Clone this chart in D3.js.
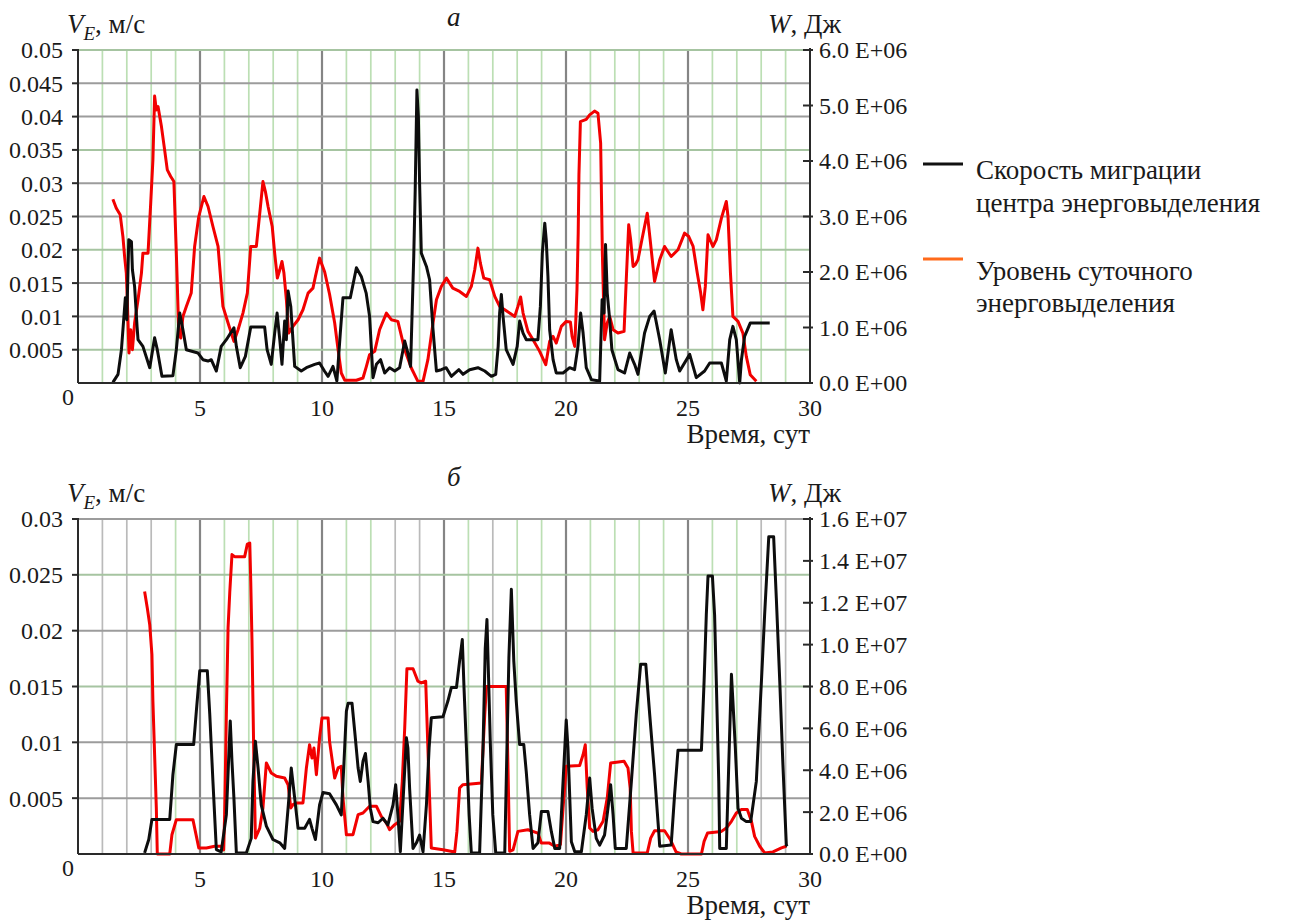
<!DOCTYPE html>
<html>
<head>
<meta charset="utf-8">
<script src="https://cdn.jsdelivr.net/npm/d3@7"></script>
<style>
  body { margin: 0; background: #fff; }
  svg { display: block; }
  text { font-family: "Liberation Serif", "Times New Roman", serif; fill: #1a1a1a; }
</style>
</head>
<body>
<svg id="chart" width="1296" height="924"></svg>
<script>
// ---- Panel (а): migration speed V_E, m/s and daily energy W, 1e6 J, versus time, days
const blackA = [[1.43,0.0001],[1.64,0.0013],[1.78,0.005],[1.94,0.0128],[2.0,0.0095],[2.08,0.0215],[2.19,0.0212],[2.23,0.017],[2.32,0.0145],[2.42,0.0085],[2.46,0.0065],[2.66,0.0055],[2.94,0.0023],[3.14,0.0068],[3.25,0.005],[3.44,0.001],[3.89,0.0011],[4.03,0.005],[4.17,0.0105],[4.30,0.008],[4.44,0.005],[4.92,0.0045],[5.12,0.0035],[5.33,0.0033],[5.46,0.0035],[5.67,0.0018],[5.87,0.0055],[6.08,0.0065],[6.39,0.0083],[6.49,0.0055],[6.65,0.0023],[6.86,0.004],[7.08,0.0084],[7.65,0.0084],[7.75,0.005],[7.92,0.0028],[8.06,0.0075],[8.16,0.0105],[8.27,0.0065],[8.36,0.0028],[8.47,0.0093],[8.54,0.0065],[8.61,0.0138],[8.72,0.0115],[8.88,0.0025],[9.15,0.0018],[9.36,0.0023],[9.70,0.0028],[9.90,0.003],[10.1,0.0018],[10.25,0.001],[10.45,0.0025],[10.61,0.0003],[10.75,0.0075],[10.86,0.0128],[11.16,0.0128],[11.41,0.0173],[11.61,0.016],[11.81,0.0135],[11.95,0.01],[12.09,0.0008],[12.23,0.0028],[12.40,0.0035],[12.57,0.0015],[12.77,0.0023],[12.98,0.0018],[13.18,0.0023],[13.39,0.0063],[13.52,0.0045],[13.63,0.0025],[13.76,0.019],[13.82,0.029],[13.89,0.044],[13.95,0.040],[14.0,0.03],[14.07,0.0195],[14.28,0.0175],[14.41,0.0155],[14.55,0.008],[14.69,0.0018],[14.89,0.002],[15.09,0.0023],[15.30,0.001],[15.61,0.002],[15.78,0.0013],[16.05,0.002],[16.39,0.0023],[16.67,0.0018],[16.94,0.001],[17.12,0.0013],[17.22,0.0055],[17.28,0.0105],[17.35,0.0133],[17.42,0.01],[17.55,0.005],[17.83,0.0028],[18.0,0.0055],[18.1,0.0093],[18.24,0.0075],[18.37,0.0065],[18.85,0.0065],[18.95,0.0115],[19.03,0.0195],[19.13,0.024],[19.19,0.0215],[19.26,0.016],[19.33,0.008],[19.47,0.0035],[19.60,0.0015],[19.88,0.0015],[20.15,0.0023],[20.35,0.002],[20.49,0.0055],[20.6,0.0105],[20.7,0.0075],[20.83,0.0023],[21.04,0.0005],[21.38,0.0003],[21.48,0.0125],[21.56,0.0105],[21.62,0.0208],[21.69,0.0135],[21.79,0.0095],[21.88,0.005],[22.13,0.002],[22.40,0.0015],[22.61,0.0045],[22.81,0.0028],[22.95,0.0013],[23.22,0.0075],[23.43,0.01],[23.61,0.0108],[23.84,0.0065],[24.07,0.0015],[24.31,0.008],[24.52,0.0035],[24.66,0.0018],[25.07,0.0043],[25.34,0.0008],[25.68,0.0018],[25.89,0.003],[26.37,0.003],[26.57,0.0003],[26.71,0.0065],[26.84,0.0085],[26.98,0.0065],[27.12,0],[27.19,0.0035],[27.32,0.007],[27.55,0.009],[28.35,0.009]];

const redA = [[1.43,3.31],[1.57,3.15],[1.73,3.03],[1.84,2.64],[1.91,2.28],[1.98,1.98],[2.02,1.5],[2.09,0.54],[2.16,0.96],[2.23,0.6],[2.32,1.08],[2.46,1.5],[2.6,1.98],[2.66,2.34],[2.87,2.34],[2.98,3.24],[3.07,4.02],[3.14,5.17],[3.21,4.92],[3.28,4.98],[3.42,4.62],[3.55,4.2],[3.66,3.84],[3.80,3.72],[3.93,3.63],[4.03,2.34],[4.13,0.9],[4.21,0.81],[4.30,1.2],[4.44,1.38],[4.64,1.62],[4.78,2.46],[4.95,3.0],[5.16,3.36],[5.33,3.18],[5.53,2.82],[5.74,2.46],[5.94,1.38],[6.15,1.08],[6.39,0.75],[6.56,0.96],[6.76,1.26],[6.94,1.62],[7.08,2.46],[7.31,2.46],[7.45,3.06],[7.58,3.63],[7.68,3.45],[7.79,3.18],[7.96,2.82],[8.06,2.34],[8.17,1.89],[8.27,2.04],[8.36,2.19],[8.44,1.98],[8.54,1.5],[8.63,0.9],[8.81,1.02],[9.02,1.14],[9.22,1.32],[9.43,1.62],[9.63,1.71],[9.73,1.92],[9.90,2.25],[10.11,2.0],[10.31,1.6],[10.52,1.08],[10.66,0.6],[10.79,0.18],[10.93,0.05],[11.41,0.05],[11.68,0.09],[11.82,0.3],[11.95,0.51],[12.16,0.57],[12.36,0.96],[12.64,1.26],[12.84,1.14],[13.11,1.11],[13.39,0.6],[13.66,0.27],[13.93,0.03],[14.14,0.03],[14.34,0.42],[14.55,1.08],[14.69,1.5],[14.89,1.74],[15.10,1.89],[15.36,1.71],[15.64,1.65],[15.92,1.56],[16.12,1.74],[16.26,2.04],[16.39,2.43],[16.49,2.16],[16.63,1.89],[16.87,1.86],[17.08,1.56],[17.28,1.38],[17.49,1.32],[17.69,1.26],[17.90,1.2],[18.03,1.38],[18.14,1.55],[18.24,1.26],[18.44,0.93],[18.65,0.78],[18.92,0.57],[19.17,0.33],[19.33,0.75],[19.47,0.84],[19.60,0.72],[19.81,1.02],[20.01,1.11],[20.18,1.1],[20.25,0.84],[20.36,0.66],[20.45,1.68],[20.5,2.7],[20.53,3.75],[20.59,4.71],[20.83,4.75],[20.97,4.83],[21.17,4.9],[21.31,4.86],[21.42,4.32],[21.49,2.34],[21.58,0.78],[21.69,1.08],[21.79,1.2],[21.93,0.96],[22.13,0.9],[22.38,0.93],[22.47,1.86],[22.57,2.85],[22.65,2.58],[22.75,2.1],[22.84,2.13],[22.95,2.22],[23.11,2.58],[23.33,3.06],[23.45,2.58],[23.63,1.83],[23.84,2.22],[24.04,2.46],[24.31,2.28],[24.59,2.4],[24.86,2.7],[25.03,2.64],[25.21,2.46],[25.38,1.98],[25.52,1.62],[25.61,1.32],[25.71,1.74],[25.82,2.67],[26.02,2.46],[26.16,2.58],[26.37,2.97],[26.57,3.27],[26.64,3.0],[26.74,1.98],[26.84,1.2],[27.05,1.11],[27.25,0.9],[27.39,0.48],[27.55,0.15],[27.80,0.03]];

// ---- Panel (б)
const blackB = [[2.73,0.0001],[2.90,0.0013],[3.03,0.0031],[3.76,0.0031],[3.89,0.0071],[4.03,0.0098],[4.74,0.0098],[4.85,0.0128],[4.99,0.0164],[5.30,0.0164],[5.40,0.0125],[5.53,0.0065],[5.67,0.0004],[5.87,0.0002],[6.08,0.0035],[6.17,0.0083],[6.24,0.0119],[6.31,0.0083],[6.39,0.005],[6.49,0.0001],[6.90,0.0001],[7.10,0.0014],[7.17,0.0065],[7.27,0.0101],[7.38,0.0077],[7.51,0.0044],[7.72,0.0025],[7.99,0.0013],[8.27,0.001],[8.47,0.0005],[8.61,0.0041],[8.74,0.0077],[8.88,0.005],[9.02,0.0023],[9.29,0.0023],[9.49,0.0031],[9.59,0.0023],[9.73,0.0013],[9.90,0.0044],[10.04,0.0055],[10.31,0.0054],[10.59,0.0044],[10.79,0.0035],[10.89,0.0077],[11.0,0.0128],[11.07,0.0135],[11.23,0.0135],[11.34,0.011],[11.48,0.0077],[11.57,0.0065],[11.68,0.0083],[11.78,0.009],[11.89,0.0065],[11.98,0.0041],[12.09,0.0029],[12.30,0.0028],[12.50,0.0032],[12.70,0.0026],[12.91,0.0044],[13.02,0.0062],[13.11,0.0035],[13.21,0.0002],[13.32,0.0047],[13.46,0.0104],[13.52,0.0095],[13.59,0.0059],[13.73,0.0005],[13.87,0.001],[14.0,0.0017],[14.14,0.0002],[14.28,0.0044],[14.39,0.0095],[14.48,0.0122],[14.96,0.0123],[15.16,0.0137],[15.30,0.0149],[15.51,0.0149],[15.64,0.0173],[15.75,0.0192],[15.82,0.0149],[15.92,0.0095],[16.03,0.0035],[16.12,0.0001],[16.46,0.0001],[16.60,0.0095],[16.69,0.0184],[16.76,0.021],[16.83,0.0155],[16.90,0.0098],[17.0,0.0035],[17.12,0.0001],[17.49,0.0001],[17.58,0.0095],[17.66,0.0176],[17.76,0.0237],[17.86,0.0173],[17.96,0.0137],[18.10,0.0098],[18.27,0.0098],[18.37,0.0074],[18.51,0.0035],[18.65,0.0005],[18.85,0.001],[18.99,0.0038],[19.26,0.0038],[19.40,0.002],[19.54,0.0005],[19.74,0.0005],[19.88,0.0065],[20.01,0.012],[20.08,0.0095],[20.22,0.0011],[20.36,0.0002],[20.63,0.0002],[20.83,0.0035],[20.97,0.0068],[21.07,0.0041],[21.24,0.0014],[21.38,0.0008],[21.58,0.0017],[21.72,0.0041],[21.83,0.0062],[21.93,0.0035],[22.02,0.0005],[22.47,0.0005],[22.68,0.0065],[22.88,0.0125],[23.06,0.017],[23.27,0.017],[23.43,0.0125],[23.63,0.0071],[23.80,0.002],[23.84,0.0007],[24.31,0.0008],[24.45,0.0053],[24.59,0.0093],[25.55,0.0093],[25.66,0.0155],[25.75,0.0214],[25.82,0.0249],[26.0,0.0249],[26.09,0.0214],[26.16,0.0155],[26.26,0.0065],[26.30,0.0005],[26.57,0.0005],[26.67,0.008],[26.78,0.0161],[26.84,0.0137],[26.94,0.0095],[27.05,0.0041],[27.19,0.0032],[27.39,0.0029],[27.57,0.0029],[27.80,0.0065],[28.01,0.0155],[28.14,0.0214],[28.31,0.0284],[28.51,0.0284],[28.62,0.0229],[28.76,0.0155],[28.89,0.008],[29.03,0.0008],[29.07,0.0007]];

const redB = [[2.73,12.54],[2.84,11.75],[2.94,10.95],[3.03,9.52],[3.07,7.29],[3.14,4.74],[3.21,2.2],[3.25,0],[3.76,0],[3.85,0.92],[4.03,1.64],[4.71,1.64],[4.95,0.29],[5.26,0.29],[5.60,0.37],[5.87,0.37],[5.97,0.2],[6.01,1.88],[6.08,6.65],[6.15,10.8],[6.22,12.5],[6.31,14.3],[6.42,14.2],[6.83,14.2],[6.94,14.8],[7.04,14.85],[7.08,13.0],[7.13,10.2],[7.2,5.06],[7.27,0.76],[7.45,1.24],[7.58,2.2],[7.72,4.35],[7.92,3.87],[8.13,3.71],[8.47,3.63],[8.61,3.31],[8.72,2.2],[8.81,2.36],[8.95,2.44],[9.22,2.44],[9.36,4.11],[9.49,5.22],[9.59,4.58],[9.67,5.06],[9.77,3.79],[9.90,5.54],[10.0,6.5],[10.25,6.5],[10.31,5.38],[10.52,3.63],[10.66,4.11],[10.79,4.19],[10.86,2.67],[11.0,0.92],[11.27,0.92],[11.48,1.88],[11.68,1.96],[11.95,2.28],[12.23,2.28],[12.43,1.8],[12.64,1.48],[12.77,1.16],[12.98,1.4],[13.18,1.56],[13.29,3.47],[13.39,6.02],[13.48,8.85],[13.73,8.85],[13.93,8.25],[14.07,8.17],[14.25,8.25],[14.34,5.06],[14.41,2.67],[14.48,0.29],[14.96,0.2],[15.44,0.1],[15.53,1.08],[15.64,3.15],[15.77,3.31],[16.53,3.39],[16.60,5.06],[16.67,6.65],[16.74,8.0],[17.55,8.0],[17.62,4.27],[17.69,0.13],[17.83,0.2],[18.03,1.08],[18.44,1.16],[18.85,1.0],[18.99,0.52],[19.32,0.52],[19.54,0.37],[19.77,0.45],[19.88,2.2],[20.01,4.19],[20.56,4.23],[20.70,4.74],[20.79,5.22],[20.87,3.15],[20.97,1.24],[21.11,1.08],[21.31,1.16],[21.52,1.56],[21.69,2.67],[21.83,4.35],[22.38,4.43],[22.54,4.11],[22.63,3.15],[22.68,1.08],[22.75,0.05],[23.33,0.05],[23.47,0.76],[23.63,1.11],[24.04,1.11],[24.28,0.68],[24.51,0.1],[24.72,0],[25.55,0],[25.66,0.6],[25.80,1.0],[26.37,1.08],[26.57,1.24],[26.78,1.56],[26.98,1.96],[27.19,2.12],[27.43,2.12],[27.60,1.56],[27.73,0.84],[27.94,0.37],[28.14,0.05],[28.48,0.1],[28.83,0.29],[29.03,0.37]];

// ---- Axis ticks
const dayTicks = [0, 5, 10, 15, 20, 25, 30];
const speedTicksA = [0.005, 0.01, 0.015, 0.02, 0.025, 0.03, 0.035, 0.04, 0.045, 0.05];
const speedTicksB = [0.005, 0.01, 0.015, 0.02, 0.025, 0.03];
const energyTicksA = [0, 1, 2, 3, 4, 5, 6];                       // 1e6 J
const energyTicksB = [0, 2, 4, 6, 8, 10, 12, 14, 16];             // 1e6 J

const legendLabels = [
  ["Скорость миграции", "центра энерговыделения"],
  ["Уровень суточного", "энерговыделения"]
];

// ---- Drawing
const svg = d3.select("#chart");
const X0 = 78, X1 = 810;
const x = d3.scaleLinear().domain([0, 30]).range([X0, X1]);

// "6.0 E+06" style label for a value given in 1e6 J
function sciLabel(m) {
  const v = m * 1e6;
  if (v === 0) return "0.0 E+00";
  const e = Math.floor(Math.log10(v) + 1e-9);
  const mant = v / Math.pow(10, e);
  return mant.toFixed(1) + " E+" + String(e).padStart(2, "0");
}

function panel(cfg) {
  const g = svg.append("g");
  const yL = d3.scaleLinear().domain([0, cfg.speedMax]).range([cfg.y1, cfg.y0]);
  const yR = d3.scaleLinear().domain([0, cfg.energyMax]).range([cfg.y1, cfg.y0]);

  // vertical grid
  const grid = g.append("g");
  d3.range(1, 30).forEach(d => {
    const major = d % 5 === 0;
    const grey = cfg.greyDays.includes(d);
    grid.append("line")
      .attr("x1", x(d)).attr("x2", x(d))
      .attr("y1", cfg.y0).attr("y2", cfg.y1)
      .attr("stroke", major ? "#858585" : (grey ? "#bababa" : "#bcdfb4"))
      .attr("stroke-width", major ? 2.2 : 1.7);
  });
  // horizontal grid
  cfg.speedTicks.forEach(t => {
    const tinted = cfg.tintedRows.includes(t);
    grid.append("line")
      .attr("x1", X0).attr("x2", X1)
      .attr("y1", yL(t)).attr("y2", yL(t))
      .attr("stroke", tinted ? "#a6c4a1" : "#9c9c9c")
      .attr("stroke-width", 2);
  });

  // series
  const lineL = d3.line().x(d => x(d[0])).y(d => yL(d[1]));
  const lineR = d3.line().x(d => x(d[0])).y(d => yR(d[1]));
  g.append("path").datum(cfg.red).attr("d", lineR)
    .attr("fill", "none").attr("stroke", "#f20000").attr("stroke-width", 3)
    .attr("stroke-linejoin", "round");
  g.append("path").datum(cfg.black).attr("d", lineL)
    .attr("fill", "none").attr("stroke", "#0d0d0d").attr("stroke-width", 3)
    .attr("stroke-linejoin", "round");

  // axes
  const ax = g.append("g").attr("stroke", "#2a2a2a").attr("stroke-width", 2);
  ax.append("line").attr("x1", X0).attr("x2", X0).attr("y1", cfg.y0 - 1).attr("y2", cfg.y1);
  ax.append("line").attr("x1", X0).attr("x2", X1).attr("y1", cfg.y1).attr("y2", cfg.y1);
  ax.append("line").attr("x1", X1).attr("x2", X1).attr("y1", cfg.y0 - 2).attr("y2", cfg.y1);
  cfg.speedTicks.forEach(t => {
    ax.append("line").attr("x1", X0 - 6).attr("x2", X0).attr("y1", yL(t)).attr("y2", yL(t));
  });
  cfg.energyTicks.forEach(t => {
    ax.append("line").attr("x1", X1 - 7).attr("x2", X1 + 3).attr("y1", yR(t)).attr("y2", yR(t));
  });

  // tick labels
  cfg.speedTicks.forEach(t => {
    g.append("text").attr("x", 63).attr("y", yL(t)).attr("dy", "0.35em")
      .attr("text-anchor", "end").attr("font-size", 24).text(String(t));
  });
  cfg.energyTicks.forEach(t => {
    g.append("text").attr("x", 819).attr("y", yR(t)).attr("dy", "0.35em")
      .attr("font-size", 24).text(sciLabel(t));
  });
  dayTicks.forEach(d => {
    if (d === 0) {
      g.append("text").attr("x", 68).attr("y", cfg.y1 + 22)
        .attr("text-anchor", "middle").attr("font-size", 24).text("0");
    } else {
      g.append("text").attr("x", x(d)).attr("y", cfg.y1 + 33)
        .attr("text-anchor", "middle").attr("font-size", 24).text(String(d));
    }
  });

  // axis titles
  const vt = g.append("text").attr("x", 67).attr("y", cfg.y0 - 17).attr("font-size", 27);
  vt.append("tspan").attr("font-style", "italic").text("V");
  vt.append("tspan").attr("font-style", "italic").attr("font-size", 19).attr("dy", 7).text("E");
  vt.append("tspan").attr("dy", -7).text(", м/с");

  const wt = g.append("text").attr("x", 768).attr("y", cfg.y0 - 17).attr("font-size", 27);
  wt.append("tspan").attr("font-style", "italic").text("W");
  wt.append("tspan").text(", Дж");

  g.append("text").attr("x", 447).attr("y", cfg.letterY).attr("font-size", 27)
    .attr("font-style", "italic").text(cfg.letter);

  g.append("text").attr("x", X1).attr("y", cfg.y1 + 60).attr("text-anchor", "end")
    .attr("font-size", 27).text("Время, сут");
}

panel({
  y0: 50, y1: 383, speedMax: 0.05, energyMax: 6,
  speedTicks: speedTicksA, energyTicks: energyTicksA,
  black: blackA, red: redA, letter: "а", letterY: 26,
  greyDays: [], tintedRows: [0.005, 0.02, 0.035, 0.05]
});
panel({
  y0: 519, y1: 854, speedMax: 0.03, energyMax: 16,
  speedTicks: speedTicksB, energyTicks: energyTicksB,
  black: blackB, red: redB, letter: "б", letterY: 486,
  greyDays: [1, 2, 3, 13, 14, 17, 28, 29], tintedRows: [0.015, 0.025]
});

// legend
const leg = svg.append("g");
const legendItems = [
  { color: "#111111", lineY: 164, textY: [179, 212] },
  { color: "#ff6a1a", lineY: 259, textY: [280, 312] }
];
legendItems.forEach((it, i) => {
  leg.append("line").attr("x1", 923).attr("x2", 963)
    .attr("y1", it.lineY).attr("y2", it.lineY)
    .attr("stroke", it.color).attr("stroke-width", 3);
  legendLabels[i].forEach((s, j) => {
    leg.append("text").attr("x", 976).attr("y", it.textY[j]).attr("font-size", 27).text(s);
  });
});
</script>
</body>
</html>
